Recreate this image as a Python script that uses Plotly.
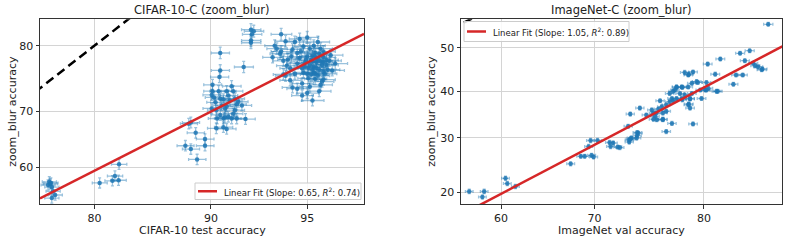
import math
from statistics import NormalDist
import plotly.graph_objects as go

# ---------------- data (accuracies in %) ----------------
cifar_test = [
    # low cluster
    74.9, 75.0, 75.2, 75.35, 75.6, 75.2, 74.75, 75.1,
    80.55, 81.85, 82.1, 82.45, 82.5,
    # middle cluster
    92.4, 92.45, 92.4, 92.4, 92.55, 90.6, 92.0, 90.6, 90.55, 90.1, 90.1, 90.05,
    90.5, 90.6, 91.0, 91.3, 91.4, 91.5, 91.7, 91.9, 90.05, 90.35, 90.9, 90.6,
    90.8, 91.1, 91.3, 91.6, 92.1, 90.35, 90.8, 88.6, 88.45, 88.95, 89.6, 89.6,
    88.2, 88.6, 89.05, 90.2, 90.8, 91.2, 91.0, 91.5, 90.3, 91.6, 91.1, 90.7,
    91.4, 90.9, 90.4, 91.0,
    # upper cluster
    93.9, 94.1, 93.7, 93.5, 93.85, 94.0, 94.2, 94.15, 94.3, 94.0, 94.3, 94.4,
    94.8, 95.2, 95.45, 95.5, 95.6, 94.7, 95.0, 94.75, 95.3, 95.6, 95.8, 95.75,
    95.6, 95.2, 94.9, 94.85, 95.05, 95.4, 95.65, 94.85, 95.25, 95.5, 94.5, 94.6,
    94.6, 94.5, 94.1, 94.8, 95.1, 94.35, 94.4, 95.0, 95.15, 95.35, 95.45, 95.55,
    95.25, 95.05, 95.2, 95.4, 95.5, 95.35, 95.15, 95.3, 95.7, 95.9, 96.0, 95.85,
    95.6, 95.1, 94.95, 94.7, 94.8, 95.0, 95.25, 95.55, 95.0, 94.6, 93.9, 93.6,
    95.4, 95.7, 95.3, 95.45, 94.9, 95.1, 95.6, 95.2, 95.3,
]
cifar_zoom = [
    57.3, 56.9, 56.3, 55.5, 54.8, 54.2, 56.7, 57.1,
    57.1, 57.5, 58.4, 57.6, 60.6,
    82.1, 81.5, 80.7, 80.4, 81.9, 79.0, 77.0, 76.5, 75.5, 74.3, 73.3, 72.7,
    73.3, 72.1, 73.3, 74.1, 73.3, 72.1, 71.6, 71.0, 70.5, 70.2, 70.5, 69.4,
    68.8, 69.1, 68.8, 68.8, 68.7, 67.1, 67.3, 68.1, 67.9, 66.3, 65.2, 64.0,
    64.0, 63.4, 61.5, 72.3, 72.0, 71.8, 70.8, 70.2, 71.5, 71.2, 72.6, 71.0,
    69.6, 69.0, 68.8, 67.0,
    81.5, 80.6, 79.6, 78.4, 78.9, 77.9, 78.1, 77.2, 76.8, 75.9, 75.0, 73.9,
    72.6, 71.8, 73.3, 74.3, 75.1, 80.9, 81.1, 79.2, 79.0, 78.4, 77.9, 76.6,
    76.3, 76.6, 77.1, 76.2, 75.3, 75.7, 76.0, 79.9, 80.0, 79.6, 80.5, 79.0,
    77.5, 76.0, 75.7, 74.5, 74.0, 78.5, 79.5, 78.5, 78.0, 77.7, 78.9, 77.3,
    77.0, 76.9, 78.6, 78.2, 77.8, 76.9, 75.9, 75.2, 77.3, 76.5, 77.5, 78.7,
    79.2, 79.6, 78.0, 78.3, 76.8, 76.0, 76.2, 74.8, 73.0, 73.7, 79.2, 80.0,
    80.5, 78.0, 78.5, 76.6, 77.6, 77.3, 77.7, 77.8, 76.0,
]

imnet_val = [
    56.4, 58.1, 57.9, 60.5, 60.7, 61.6,
    67.55, 69.0, 69.7, 69.9, 69.4, 69.6, 70.3, 71.5, 71.85, 71.6, 72.3, 73.4,
    73.4, 73.6, 74.15, 74.15, 73.3, 73.5, 74.4, 68.6, 73.5, 74.1, 74.25, 72.5,
    76.25, 75.5, 75.65, 75.8, 75.95, 76.5, 76.5, 76.8, 76.4, 76.1, 76.8, 77.1,
    77.3, 77.4, 77.7, 77.1, 77.55, 78.0, 78.4, 77.7, 78.15, 78.7, 79.0, 79.4,
    78.15, 78.85, 78.7, 78.85, 77.3, 76.8, 79.1, 79.8, 79.7, 80.1, 80.35, 81.0,
    75.0, 84.8, 82.8, 83.5, 81.3, 80.3, 83.15, 83.75, 83.9, 84.35, 84.1, 82.5,
    82.3, 80.9, 81.1, 80.2, 80.2, 78.4, 78.75, 79.1, 78.7, 77.4, 77.7, 78.2,
    79.5, 79.0, 78.85, 78.75, 78.2, 75.65, 76.5, 75.9, 84.4, 83.0,
]
imnet_zoom = [
    20.2, 20.2, 19.3, 22.4, 21.5, 21.0,
    25.0, 26.4, 26.6, 26.3, 28.3, 29.5, 29.5, 29.1, 29.0, 28.3, 28.2, 29.6,
    29.2, 30.0, 30.5, 31.1, 32.4, 35.0, 36.3, 26.4, 29.8, 30.0, 31.0, 28.1,
    37.9, 35.9, 35.2, 34.5, 33.8, 33.8, 35.2, 35.6, 36.6, 36.1, 37.0, 37.7,
    38.4, 37.9, 38.4, 39.5, 40.3, 39.5, 39.2, 41.0, 41.0, 41.0, 41.8, 42.2,
    38.4, 38.4, 37.0, 36.3, 33.0, 31.3, 32.9, 38.4, 40.3, 40.3, 40.7, 40.0,
    34.8, 55.4, 48.7, 49.3, 47.4, 46.2, 47.0, 46.4, 45.8, 44.9, 45.6, 43.7,
    41.6, 43.9, 40.0, 42.0, 40.3, 44.3, 43.9, 44.4, 43.7, 40.0, 40.9, 40.9,
    42.0, 39.5, 38.3, 37.2, 38.1, 33.9, 33.9, 35.2, 45.1, 43.7,
]

cifar_n = 10000
imnet_n = 50000

left_fit = {"slope": 0.65, "intercept": -0.309, "r2": 0.74}
right_fit = {"slope": 1.05, "intercept": -1.115, "r2": 0.89}

left_xlim = (73.77, 96.85)
left_ylim = (53.07, 83.38)
right_xlim = (55.46, 85.74)
right_ylim = (18.2, 56.55)

left_xticks = [80, 90, 95]
left_yticks = [60, 70, 80]
right_xticks = [60, 70, 80]
right_yticks = [20, 30, 40, 50]

# ---------------- helpers (probit scale) ----------------
_nd = NormalDist()


def probit(acc):
    return _nd.inv_cdf(acc / 100.0)


def err(vals, n):
    plus, minus = [], []
    for v in vals:
        p = v / 100.0
        h = 1.96 * math.sqrt(p * (1 - p) / n)
        c = _nd.inv_cdf(p)
        plus.append(_nd.inv_cdf(min(p + h, 0.9999)) - c)
        minus.append(c - _nd.inv_cdf(max(p - h, 0.0001)))
    return plus, minus


BLUE = "rgba(31,119,180,0.85)"
BLUE_ERR = "rgba(31,119,180,0.45)"
RED = "#d62728"
FONT = "DejaVu Sans"
TXT = "#222222"

W, H = 789, 242
PT, PB = 19.3, 204
L1, R1 = 40, 364
L2, R2 = 461, 782.3

fig = go.Figure()


def fit_label(fit):
    return f"Linear Fit (Slope: {fit['slope']:.2f}, <i>R</i><sup>2</sup>: {fit['r2']:.2f})"


def add_panel(xs, ys, n, fit, xlim, ylim, xa, ya):
    ex_p, ex_m = err(xs, n)
    ey_p, ey_m = err(ys, n)
    px = [probit(v) for v in xs]
    py = [probit(v) for v in ys]
    lo, hi = probit(min(xlim[0], ylim[0])), probit(max(xlim[1], ylim[1]))
    fig.add_trace(go.Scatter(
        x=[lo, hi], y=[lo, hi], mode="lines", xaxis=xa, yaxis=ya,
        line=dict(color="black", width=2.5, dash="9px,5px"),
        showlegend=False, hoverinfo="skip"))
    fig.add_trace(go.Scatter(
        x=px, y=py, mode="markers", xaxis=xa, yaxis=ya,
        marker=dict(size=4.5, color=BLUE),
        error_x=dict(type="data", symmetric=False, array=ex_p, arrayminus=ex_m,
                     color=BLUE_ERR, thickness=1.3, width=1.5),
        error_y=dict(type="data", symmetric=False, array=ey_p, arrayminus=ey_m,
                     color=BLUE_ERR, thickness=1.3, width=1.5),
        showlegend=False))
    x0, x1 = probit(xlim[0]), probit(xlim[1])
    fig.add_trace(go.Scatter(
        x=[x0, x1],
        y=[fit["slope"] * x0 + fit["intercept"], fit["slope"] * x1 + fit["intercept"]],
        mode="lines", xaxis=xa, yaxis=ya, line=dict(color=RED, width=2.5),
        name=fit_label(fit), showlegend=False))


add_panel(cifar_test, cifar_zoom, cifar_n, left_fit, left_xlim, left_ylim, "x", "y")
add_panel(imnet_val, imnet_zoom, imnet_n, right_fit, right_xlim, right_ylim, "x2", "y2")

yd = [(H - PB) / H, (H - PT) / H]


def axis(domain, lim, ticks, anchor):
    return dict(
        domain=domain, anchor=anchor, automargin=False,
        range=[probit(lim[0]), probit(lim[1])],
        tickvals=[probit(t) for t in ticks], ticktext=[str(t) for t in ticks],
        showgrid=True, gridcolor="#d4d4d4", gridwidth=1, zeroline=False,
        showline=True, linecolor="#333333", linewidth=1, mirror=True,
        ticks="outside", ticklen=3.5, tickcolor="#333333",
        tickfont=dict(family=FONT, size=11, color=TXT),
    )


def px2x(v):
    return v / W


def px2y(v):
    return (H - v) / H


def ann(text, xpx, ypx, size=11, angle=0, xanchor="center"):
    return dict(text=text, x=px2x(xpx), y=px2y(ypx), xref="paper", yref="paper",
                showarrow=False, xanchor=xanchor, yanchor="middle", textangle=angle,
                font=dict(family=FONT, size=size, color=TXT))


# manual legends (box, line sample, label)
legend_boxes = [
    (195, 361, 183, 199.5, left_fit),
    (464, 629, 21.5, 41.5, right_fit),
]
shapes = []
legend_anns = []
for x0, x1, y0, y1, fit in legend_boxes:
    ym = (y0 + y1) / 2
    shapes.append(dict(type="rect", xref="paper", yref="paper",
                       x0=px2x(x0), x1=px2x(x1), y0=px2y(y1), y1=px2y(y0),
                       line=dict(color="#cccccc", width=1),
                       fillcolor="rgba(255,255,255,0.85)", layer="above"))
    shapes.append(dict(type="line", xref="paper", yref="paper",
                       x0=px2x(x0 + 3), x1=px2x(x0 + 22), y0=px2y(ym), y1=px2y(ym),
                       line=dict(color=RED, width=2.5), layer="above"))
    legend_anns.append(ann(fit_label(fit), x0 + 26.5, ym + 0.3, 8.5, 0, "left"))

fig.update_layout(
    width=W, height=H,
    margin=dict(l=0, r=0, t=0, b=0, autoexpand=False),
    paper_bgcolor="white", plot_bgcolor="white",
    font=dict(family=FONT, size=11, color=TXT),
    showlegend=False,
    xaxis=axis([L1 / W, R1 / W], left_xlim, left_xticks, "y"),
    yaxis=axis(yd, left_ylim, left_yticks, "x"),
    xaxis2=axis([L2 / W, R2 / W], right_xlim, right_xticks, "y2"),
    yaxis2=axis(yd, right_ylim, right_yticks, "x2"),
    shapes=shapes,
    annotations=[
        ann("CIFAR-10-C (zoom_blur)", (L1 + R1) / 2, 10, 11.5),
        ann("ImageNet-C (zoom_blur)", (L2 + R2) / 2, 10, 11.5),
        ann("CIFAR-10 test accuracy", (L1 + R1) / 2, 230.5),
        ann("ImageNet val accuracy", (L2 + R2) / 2, 230.5),
        ann("zoom_blur accuracy", 13, (PT + PB) / 2, 11, -90),
        ann("zoom_blur accuracy", 432, (PT + PB) / 2, 11, -90),
    ] + legend_anns,
)

fig.write_html(
    "out.html",
    config={"displayModeBar": False},
    post_script="document.body.style.margin='0';document.body.style.overflow='hidden';",
)
